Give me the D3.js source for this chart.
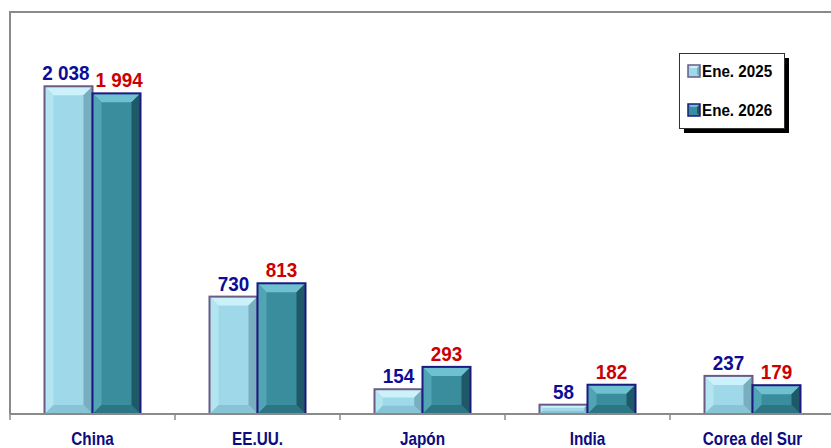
<!DOCTYPE html>
<html><head><meta charset="utf-8">
<script src="https://cdn.jsdelivr.net/npm/d3@7"></script>
<style>body{margin:0;background:#fff}svg{display:block}</style>
</head><body>
<script>
const categories = ["China", "EE.UU.", "Japón", "India", "Corea del Sur"];
const seriesNames = ["Ene. 2025", "Ene. 2026"];
const values2025 = [2038, 730, 154, 58, 237];
const values2026 = [1994, 813, 293, 182, 179];
const labels2025 = ["2 038", "730", "154", "58", "237"];
const labels2026 = ["1 994", "813", "293", "182", "179"];

const W = 831, H = 448;
const FONT = "Liberation Sans, Arial, sans-serif";
const svg = d3.select("body").append("svg").attr("width", W).attr("height", H);
const x0 = 10, x1 = 835, yTop = 12, yBase = 414;

const x = d3.scaleBand().domain(categories).range([x0, x1]).paddingInner(0).paddingOuter(0);
const xs = d3.scaleBand().domain(seriesNames).range([0, 96]);
const y = d3.scaleLinear().domain([0, 2500]).range([yBase, yTop]);

svg.append("path").attr("d", `M${x0},${yBase} V${yTop} H${W}`)
  .attr("fill", "none").attr("stroke", "#8a8a8a").attr("stroke-width", 2);

const styles = [
  {base:"#9fd8e9", top:"#cbf2fa", left:"#b3e5f1", right:"#78aebf", bottom:"#86c4d6", stroke:"#6a5a85", text:"#0c0c96"},
  {base:"#3a8d9d", top:"#6fc0d0", left:"#50a4b4", right:"#1f5866", bottom:"#2b7585", stroke:"#1a1a80", text:"#cc0000"}
];

const g = svg.append("g");
const SX = 0.9, FS = 21;
categories.forEach((c, i) => {
  const vals = [values2025[i], values2026[i]];
  const labs = [labels2025[i], labels2026[i]];
  const centers = [], widths = [], tops = [];
  vals.forEach((v, s) => {
    const bx = x(c) + (x.bandwidth() - 96) / 2 + xs(seriesNames[s]);
    const bw = xs.bandwidth();
    const by = y(v), bh = yBase - by;
    const st = styles[s];
    const b = Math.min(9, bh / 3, bw / 4);
    const gg = g.append("g");
    const L = bx, R = bx + bw, T = by, B = yBase;
    gg.append("rect").attr("x", bx).attr("y", by).attr("width", bw).attr("height", bh).attr("fill", st.base);
    gg.append("path").attr("d", `M${L},${T}H${R}L${R-b},${T+b}H${L+b}Z`).attr("fill", st.top);
    gg.append("path").attr("d", `M${L},${T}L${L+b},${T+b}V${B-b}L${L},${B}Z`).attr("fill", st.left);
    gg.append("path").attr("d", `M${R},${T}L${R-b},${T+b}V${B-b}L${R},${B}Z`).attr("fill", st.right);
    gg.append("path").attr("d", `M${L},${B}L${L+b},${B-b}H${R-b}L${R},${B}Z`).attr("fill", st.bottom);
    gg.append("rect").attr("x", bx).attr("y", by).attr("width", bw).attr("height", bh)
      .attr("fill", "none").attr("stroke", st.stroke).attr("stroke-width", 2);
    centers.push(bx + bw / 2); tops.push(by);
    const t = g.append("text").attr("font-family", FONT).attr("font-weight", "bold")
      .attr("font-size", FS).text(labs[s]);
    widths.push(t.node().getComputedTextLength() * SX);
    t.remove();
  });
  // avoid overlap between the two labels
  const gap = 6;
  const need = (widths[0] + widths[1]) / 2 + gap;
  const have = centers[1] - centers[0];
  const overlapY = Math.abs(tops[0] - tops[1]) < 18;
  if (overlapY && have < need) {
    const sh = (need - have) / 2;
    centers[0] -= sh; centers[1] += sh;
  }
  [0, 1].forEach(s => {
    const cx = centers[s], cy = tops[s] - 6;
    g.append("text").attr("text-anchor", "middle").attr("font-family", FONT)
      .attr("font-weight", "bold").attr("font-size", FS).attr("fill", styles[s].text)
      .attr("transform", `translate(${cx},${cy}) scale(${SX},1)`).text(labs[s]);
  });
});

svg.append("line").attr("x1", x0).attr("x2", W).attr("y1", yBase).attr("y2", yBase)
  .attr("stroke", "#8a8a8a").attr("stroke-width", 2);
const ticks = categories.map(c => x(c)).concat([x1]);
svg.selectAll(".tk").data(ticks).enter().append("line")
  .attr("x1", d => d).attr("x2", d => d).attr("y1", yBase).attr("y2", yBase + 6)
  .attr("stroke", "#8a8a8a").attr("stroke-width", 1.5);

svg.selectAll(".cat").data(categories).enter().append("text")
  .attr("text-anchor", "middle").attr("font-family", FONT)
  .attr("font-weight", "bold").attr("font-size", 18).attr("fill", "#0c0c80")
  .attr("transform", d => `translate(${x(d) + x.bandwidth()/2},445) scale(0.85,1)`)
  .text(d => d);

const lg = svg.append("g");
lg.append("rect").attr("x", 684).attr("y", 58).attr("width", 105).attr("height", 75).attr("fill", "#000");
lg.append("rect").attr("x", 679.5).attr("y", 53.5).attr("width", 105).attr("height", 75)
  .attr("fill", "#fff").attr("stroke", "#333").attr("stroke-width", 1);
seriesNames.forEach((s, i) => {
  const st = styles[i];
  const base = 77 + i * 39;
  const sx = 688, sy = base - 12, sz = 12;
  lg.append("rect").attr("x", sx).attr("y", sy).attr("width", sz).attr("height", sz).attr("fill", st.base);
  lg.append("path").attr("d", `M${sx},${sy}H${sx+sz}L${sx+sz-3},${sy+3}H${sx+3}Z`).attr("fill", st.top);
  lg.append("path").attr("d", `M${sx+sz},${sy}L${sx+sz-3},${sy+3}V${sy+sz-3}L${sx+sz},${sy+sz}Z`).attr("fill", st.right);
  lg.append("rect").attr("x", sx).attr("y", sy).attr("width", sz).attr("height", sz)
    .attr("fill", "none").attr("stroke", st.stroke).attr("stroke-width", 1.5);
  lg.append("text").attr("font-family", FONT).attr("font-weight", "bold")
    .attr("font-size", 16).attr("fill", "#000")
    .attr("transform", `translate(702,${base}) scale(0.95,1)`).text(s);
});
</script>
</body></html>
